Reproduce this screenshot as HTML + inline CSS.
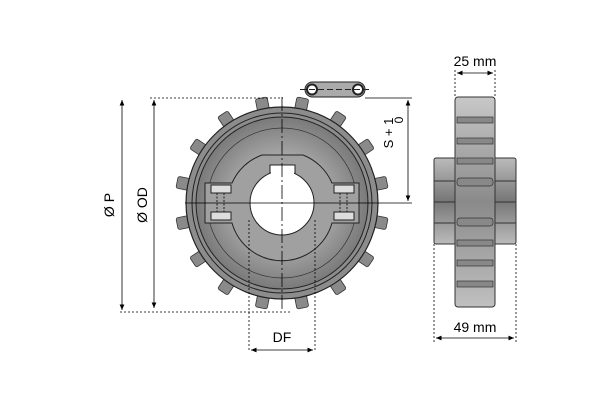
<!DOCTYPE html>
<html><head><style>body{margin:0;background:#fff}svg{display:block}</style></head><body>
<svg width="600" height="411" viewBox="0 0 600 411" font-family="Liberation Sans, sans-serif">
<defs>
<radialGradient id="g" cx="50%" cy="50%" r="50%"><stop offset="0.4" stop-color="#b5b5b5"/><stop offset="1" stop-color="#7a7a7a"/></radialGradient>
<linearGradient id="s" x1="0" x2="0" y1="0" y2="1"><stop offset="0" stop-color="#c8c8c8"/><stop offset="0.5" stop-color="#8a8a8a"/><stop offset="1" stop-color="#c0c0c0"/></linearGradient>
<linearGradient id="h" x1="0" x2="0" y1="0" y2="1"><stop offset="0" stop-color="#bbb"/><stop offset="0.5" stop-color="#777"/><stop offset="1" stop-color="#bbb"/></linearGradient>
<marker id="a" markerWidth="8" markerHeight="8" refX="7" refY="4" orient="auto-start-reverse"><path d="M0,1 L7,4 L0,7z" fill="#000"/></marker>
</defs>
<g transform="translate(282,203)" fill="#8a8a8a" stroke="#333" stroke-width="0.8">
<rect x="-6" y="-107" width="12" height="16" rx="2" transform="rotate(11.25)"/>
<rect x="-6" y="-107" width="12" height="16" rx="2" transform="rotate(33.75)"/>
<rect x="-6" y="-107" width="12" height="16" rx="2" transform="rotate(56.25)"/>
<rect x="-6" y="-107" width="12" height="16" rx="2" transform="rotate(78.75)"/>
<rect x="-6" y="-107" width="12" height="16" rx="2" transform="rotate(101.25)"/>
<rect x="-6" y="-107" width="12" height="16" rx="2" transform="rotate(123.75)"/>
<rect x="-6" y="-107" width="12" height="16" rx="2" transform="rotate(146.25)"/>
<rect x="-6" y="-107" width="12" height="16" rx="2" transform="rotate(168.75)"/>
<rect x="-6" y="-107" width="12" height="16" rx="2" transform="rotate(191.25)"/>
<rect x="-6" y="-107" width="12" height="16" rx="2" transform="rotate(213.75)"/>
<rect x="-6" y="-107" width="12" height="16" rx="2" transform="rotate(236.25)"/>
<rect x="-6" y="-107" width="12" height="16" rx="2" transform="rotate(258.75)"/>
<rect x="-6" y="-107" width="12" height="16" rx="2" transform="rotate(281.25)"/>
<rect x="-6" y="-107" width="12" height="16" rx="2" transform="rotate(303.75)"/>
<rect x="-6" y="-107" width="12" height="16" rx="2" transform="rotate(326.25)"/>
<rect x="-6" y="-107" width="12" height="16" rx="2" transform="rotate(348.75)"/>
</g>
<circle cx="282" cy="203" r="96" fill="#8c8c8c" stroke="#222" stroke-width="1.2"/>
<circle cx="282" cy="203" r="90" fill="none" stroke="#222" stroke-width="1"/>
<circle cx="282" cy="203" r="86" fill="url(#g)" stroke="#222" stroke-width="1"/>
<circle cx="282" cy="203" r="75" fill="none" stroke="#333" stroke-width="0.7"/>
<path d="M205,183 H232 A52,52 0 0 1 262,155 H303 A52,52 0 0 1 332,183 H359 V223 H332 A52,52 0 0 1 232,223 H205 Z" fill="#a0a0a0" stroke="#222" stroke-width="1"/>
<path d="M270,176 V165 H295 V176 Z" fill="#fff" stroke="#222"/>
<circle cx="282" cy="203" r="32" fill="#fff" stroke="#222"/>
<rect x="271" y="170" width="23" height="8" fill="#fff"/>
<g fill="#ddd" stroke="#222" stroke-width="1">
<rect x="211" y="185" width="20" height="8"/><rect x="211" y="212" width="20" height="8"/>
<rect x="334" y="185" width="20" height="8"/><rect x="334" y="212" width="20" height="8"/>
</g>
<g stroke="#222" stroke-dasharray="2,1.5">
<line x1="217" y1="193" x2="217" y2="212"/><line x1="224" y1="193" x2="224" y2="212"/>
<line x1="340" y1="193" x2="340" y2="212"/><line x1="347" y1="193" x2="347" y2="212"/>
</g>
<line x1="282" y1="97" x2="282" y2="312" stroke="#000" stroke-width="0.8" stroke-dasharray="14,3,2,3"/>
<line x1="185" y1="203" x2="412" y2="203" stroke="#000" stroke-width="0.8"/>
<rect x="305" y="82" width="60" height="15" rx="7.5" fill="#aaa" stroke="#222"/>
<circle cx="312" cy="89.5" r="5" fill="#fff" stroke="#222" stroke-width="2"/>
<circle cx="358" cy="89.5" r="5" fill="#fff" stroke="#222" stroke-width="2"/>
<line x1="300" y1="89.5" x2="370" y2="89.5" stroke="#222" stroke-dasharray="6,3"/>
<g stroke="#000" stroke-width="0.8" fill="none">
<line x1="150" y1="98" x2="283" y2="98" stroke-dasharray="2,2"/>
<line x1="120" y1="312" x2="290" y2="312" stroke-dasharray="2,2"/>
<line x1="122" y1="100" x2="122" y2="310" marker-start="url(#a)" marker-end="url(#a)"/>
<line x1="154" y1="100" x2="154" y2="308" marker-start="url(#a)" marker-end="url(#a)"/>
<line x1="249" y1="220" x2="249" y2="352" stroke-dasharray="2,2"/>
<line x1="315" y1="220" x2="315" y2="352" stroke-dasharray="2,2"/>
<line x1="251" y1="350" x2="313" y2="350" marker-start="url(#a)" marker-end="url(#a)"/>
<line x1="365" y1="98" x2="412" y2="98"/>
<line x1="408" y1="100" x2="408" y2="201" marker-start="url(#a)" marker-end="url(#a)"/>
<line x1="455" y1="70" x2="455" y2="97" stroke-dasharray="2,2"/>
<line x1="495" y1="70" x2="495" y2="97" stroke-dasharray="2,2"/>
<line x1="457" y1="73" x2="493" y2="73" marker-start="url(#a)" marker-end="url(#a)"/>
<line x1="434" y1="244" x2="434" y2="342" stroke-dasharray="2,2"/>
<line x1="516" y1="244" x2="516" y2="342" stroke-dasharray="2,2"/>
<line x1="436" y1="338" x2="514" y2="338" marker-start="url(#a)" marker-end="url(#a)"/>
</g>
<rect x="434" y="158" width="82" height="86" rx="2" fill="url(#h)" stroke="#333"/>
<line x1="434" y1="181" x2="516" y2="181" stroke="#333"/><line x1="434" y1="202" x2="516" y2="202" stroke="#333"/><line x1="434" y1="223" x2="516" y2="223" stroke="#333"/>
<rect x="455" y="97" width="40" height="210" rx="3" fill="url(#s)" stroke="#333"/>
<g fill="#888" stroke="#333" stroke-width="0.7">
<rect x="457" y="117" width="36" height="6"/><rect x="457" y="138" width="36" height="6"/><rect x="457" y="158" width="36" height="6"/>
<rect x="457" y="178" width="36" height="8" rx="3"/><rect x="457" y="218" width="36" height="8" rx="3"/>
<rect x="457" y="240" width="36" height="6"/><rect x="457" y="260" width="36" height="6"/><rect x="457" y="281" width="36" height="6"/>
</g>
<g font-size="14" fill="#000">
<text transform="translate(114,205) rotate(-90)" text-anchor="middle">Ø P</text>
<text transform="translate(147,205) rotate(-90)" text-anchor="middle">Ø OD</text>
<text x="282" y="342" text-anchor="middle">DF</text>
<text x="475" y="66" text-anchor="middle">25 mm</text>
<text x="475" y="332" text-anchor="middle">49 mm</text>
<text transform="translate(393,133) rotate(-90)" text-anchor="middle" font-size="13">S + 1</text>
<text transform="translate(403,120) rotate(-90)" text-anchor="middle" font-size="12">0</text>
</g>
</svg>
</body></html>
